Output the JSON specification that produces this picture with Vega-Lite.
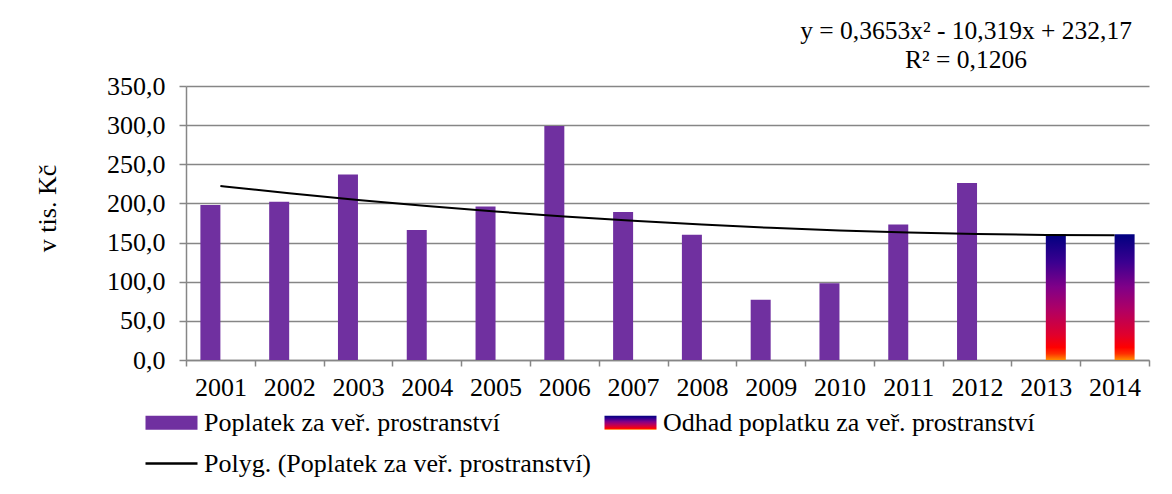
{
  "$schema": "https://vega.github.io/schema/vega-lite/v6.json",
  "autosize": {"type": "none"},
  "width": 963,
  "height": 274,
  "padding": {"left": 186, "top": 86, "right": 23, "bottom": 134},
  "background": "white",
  "config": {
    "font": "Liberation Serif",
    "view": {"stroke": null},
    "axis": {"labelFont": "Liberation Serif", "titleFont": "Liberation Serif", "labelColor": "black", "titleColor": "black"},
    "legend": {"labelFont": "Liberation Serif"}
  },
  "data": {
    "values": [
      {"year": "2001", "value": 198, "series": "Poplatek za veř. prostranství", "trend": 222.22},
      {"year": "2002", "value": 202, "series": "Poplatek za veř. prostranství", "trend": 212.99},
      {"year": "2003", "value": 237, "series": "Poplatek za veř. prostranství", "trend": 204.50},
      {"year": "2004", "value": 166, "series": "Poplatek za veř. prostranství", "trend": 196.74},
      {"year": "2005", "value": 196, "series": "Poplatek za veř. prostranství", "trend": 189.71},
      {"year": "2006", "value": 299, "series": "Poplatek za veř. prostranství", "trend": 183.41},
      {"year": "2007", "value": 189, "series": "Poplatek za veř. prostranství", "trend": 177.84},
      {"year": "2008", "value": 160, "series": "Poplatek za veř. prostranství", "trend": 173.00},
      {"year": "2009", "value": 77, "series": "Poplatek za veř. prostranství", "trend": 168.89},
      {"year": "2010", "value": 98, "series": "Poplatek za veř. prostranství", "trend": 165.51},
      {"year": "2011", "value": 173, "series": "Poplatek za veř. prostranství", "trend": 162.86},
      {"year": "2012", "value": 226, "series": "Poplatek za veř. prostranství", "trend": 160.95},
      {"year": "2013", "value": 160.5, "series": "Odhad poplatku za veř. prostranství", "trend": 159.76},
      {"year": "2014", "value": 160.5, "series": "Odhad poplatku za veř. prostranství", "trend": 159.30}
    ]
  },
  "encoding": {
    "x": {
      "field": "year", "type": "ordinal",
      "scale": {"paddingInner": 0, "paddingOuter": 0},
      "axis": {
        "title": null, "labelAngle": 0, "labelFontSize": 26, "labelPadding": 8,
        "tickBand": "extent", "tickSize": 6, "tickColor": "#868686", "tickWidth": 1.5,
        "domainColor": "#868686", "domainWidth": 1.5, "grid": false
      }
    }
  },
  "layer": [
    {
      "mark": {"type": "bar"},
      "encoding": {
        "xOffset": {"field": "series", "type": "nominal",
          "scale": {"domain": ["Poplatek za veř. prostranství", "Odhad poplatku za veř. prostranství"], "paddingInner": 0, "paddingOuter": 0.72}},
        "y": {
          "field": "value", "type": "quantitative",
          "scale": {"domain": [0, 350], "nice": false},
          "axis": {
            "title": "v tis. Kč", "titleFontSize": 26, "titleFontWeight": "normal", "titlePadding": 46, "titleY": 122,
            "values": [0, 50, 100, 150, 200, 250, 300, 350],
            "labelExpr": "replace(format(datum.value, '.1f'), '.', ',')",
            "labelFontSize": 26, "labelPadding": 14, "labelOverlap": false,
            "tickSize": 7, "tickColor": "#868686", "tickWidth": 1.5,
            "domainColor": "#868686", "domainWidth": 1.5,
            "grid": true, "gridColor": "#868686", "gridWidth": 1.5
          }
        },
        "color": {
          "field": "series", "type": "nominal",
          "scale": {
            "domain": ["Poplatek za veř. prostranství", "Odhad poplatku za veř. prostranství", "Polyg. (Poplatek za veř. prostranství)"],
            "range": [
              "#7030a0",
              {"expr": "{gradient: 'linear', x1: 0, y1: 1, x2: 0, y2: 0, stops: [{offset: 0, color: '#ff8c00'}, {offset: 0.05, color: '#ff3000'}, {offset: 0.1, color: '#ff0000'}, {offset: 0.2, color: '#e0002c'}, {offset: 0.4, color: '#b00064'}, {offset: 0.58, color: '#800088'}, {offset: 0.78, color: '#3a0090'}, {offset: 1, color: '#000080'}]}"},
              "#000000"
            ]
          },
          "legend": {
            "title": null, "orient": "none", "legendX": -42, "legendY": 309,
            "direction": "horizontal", "columns": 2, "columnPadding": 7, "rowPadding": -6,
            "labelFontSize": 26, "labelColor": "black", "labelOffset": 5, "labelLimit": 600,
            "symbolSize": 2704,
            "encode": {
              "symbols": {
                "update": {
                  "shape": [
                    {"test": "datum.value === 'Polyg. (Poplatek za veř. prostranství)'", "value": "M-1,0H1"},
                    {"value": "M-1,-0.27H1V0.27H-1Z"}
                  ],
                  "stroke": [
                    {"test": "datum.value === 'Polyg. (Poplatek za veř. prostranství)'", "value": "#000000"},
                    {"value": "transparent"}
                  ],
                  "strokeWidth": {"value": 2.5},
                  "opacity": {"value": 1}
                }
              }
            }
          }
        }
      }
    },
    {
      "mark": {"type": "line", "color": "black", "strokeWidth": 2, "interpolate": "monotone"},
      "encoding": {
        "y": {
          "field": "trend", "type": "quantitative",
          "axis": {
            "title": "v tis. Kč", "titleFontSize": 26, "titleFontWeight": "normal", "titlePadding": 46, "titleY": 122,
            "values": [0, 50, 100, 150, 200, 250, 300, 350],
            "labelExpr": "replace(format(datum.value, '.1f'), '.', ',')",
            "labelFontSize": 26, "labelPadding": 14, "labelOverlap": false,
            "tickSize": 7, "tickColor": "#868686", "tickWidth": 1.5,
            "domainColor": "#868686", "domainWidth": 1.5,
            "grid": true, "gridColor": "#868686", "gridWidth": 1.5
          }
        }
      }
    },
    {
      "data": {"values": [{"year": "2012", "pos": 410, "label": "y = 0,3653x² - 10,319x + 232,17\nR² = 0,1206"}]},
      "mark": {"type": "text", "fontSize": 25.5, "font": "Liberation Serif", "align": "center", "baseline": "alphabetic", "lineBreak": "\n", "lineHeight": 29, "dx": -11, "color": "black"},
      "encoding": {
        "y": {
          "field": "pos", "type": "quantitative",
          "axis": {
            "title": "v tis. Kč", "titleFontSize": 26, "titleFontWeight": "normal", "titlePadding": 46, "titleY": 122,
            "values": [0, 50, 100, 150, 200, 250, 300, 350],
            "labelExpr": "replace(format(datum.value, '.1f'), '.', ',')",
            "labelFontSize": 26, "labelPadding": 14, "labelOverlap": false,
            "tickSize": 7, "tickColor": "#868686", "tickWidth": 1.5,
            "domainColor": "#868686", "domainWidth": 1.5,
            "grid": true, "gridColor": "#868686", "gridWidth": 1.5
          }
        },
        "text": {"field": "label", "type": "nominal"}
      }
    }
  ]
}
